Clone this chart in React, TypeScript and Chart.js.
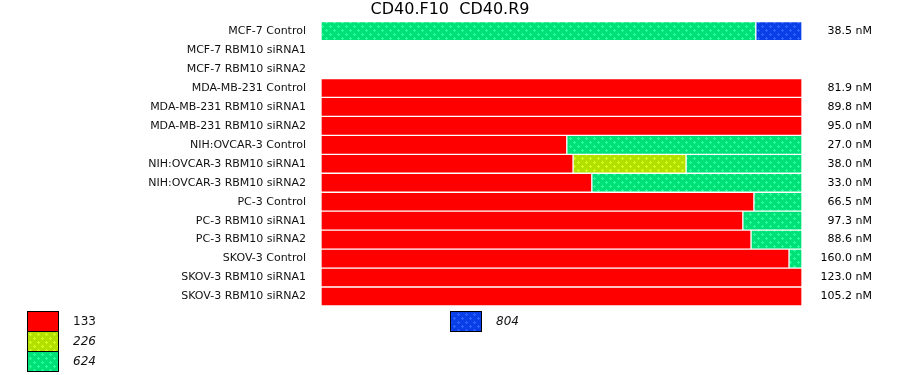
import React, { useEffect, useRef } from "react";
import { Chart, registerables } from "chart.js";

Chart.register(...registerables);

const TITLE = "CD40.F10  CD40.R9";

const categories = [
  "MCF-7 Control",
  "MCF-7 RBM10 siRNA1",
  "MCF-7 RBM10 siRNA2",
  "MDA-MB-231 Control",
  "MDA-MB-231 RBM10 siRNA1",
  "MDA-MB-231 RBM10 siRNA2",
  "NIH:OVCAR-3 Control",
  "NIH:OVCAR-3 RBM10 siRNA1",
  "NIH:OVCAR-3 RBM10 siRNA2",
  "PC-3 Control",
  "PC-3 RBM10 siRNA1",
  "PC-3 RBM10 siRNA2",
  "SKOV-3 Control",
  "SKOV-3 RBM10 siRNA1",
  "SKOV-3 RBM10 siRNA2",
];

const rightLabels = [
  "38.5 nM", "", "", "81.9 nM", "89.8 nM", "95.0 nM", "27.0 nM", "38.0 nM",
  "33.0 nM", "66.5 nM", "97.3 nM", "88.6 nM", "160.0 nM", "123.0 nM", "105.2 nM",
];

const seriesNames = ["133", "226", "624", "804"];

const s133 = [null, null, null, 100, 100, 100, 51.1, 52.4, 56.3, 90.0, 87.7, 89.4, 97.3, 100, 100];
const s226 = [null, null, null, null, null, null, null, 23.5, null, null, null, null, null, null, null];
const s624 = [90.4, null, null, null, null, null, 48.9, 24.1, 43.7, 10.0, 12.3, 10.6, 2.7, null, null];
const s804 = [9.6, null, null, null, null, null, null, null, null, null, null, null, null, null, null];

const FONT = "DejaVu Sans";

function makePattern(base: string, dot: string | null): CanvasPattern | string {
  if (!dot) return base;
  const c = document.createElement("canvas");
  c.width = 8;
  c.height = 8;
  const g = c.getContext("2d")!;
  g.fillStyle = base;
  g.fillRect(0, 0, 8, 8);
  g.fillStyle = dot;
  const plus = (x: number, y: number) => {
    g.fillRect(x - 1, y, 3, 1);
    g.fillRect(x, y - 1, 1, 3);
  };
  plus(2, 2);
  plus(6, 6);
  const p = g.createPattern(c, "repeat");
  return p || base;
}

export default function App() {
  const ref = useRef<HTMLCanvasElement | null>(null);

  useEffect(() => {
    if (!ref.current) return;
    const fills = [
      makePattern("#ff0000", null),
      makePattern("#b4e000", "#d2ff1e"),
      makePattern("#00e078", "#28ff96"),
      makePattern("#0a3ee6", "#2a64ff"),
    ];
    const seriesData = [s133, s226, s624, s804];

    const overlay = {
      id: "overlay",
      afterDraw(chart: any) {
        const ctx = chart.ctx as CanvasRenderingContext2D;
        const area = chart.chartArea;
        const y = chart.scales.y;
        ctx.save();
        // title
        ctx.fillStyle = "#000";
        ctx.font = `16px "${FONT}"`;
        ctx.textAlign = "center";
        ctx.textBaseline = "middle";
        ctx.fillText(TITLE, chart.width / 2, 10);
        // right value labels
        ctx.font = `11px "${FONT}"`;
        ctx.textAlign = "right";
        rightLabels.forEach((t, i) => {
          if (!t) return;
          ctx.fillText(t, area.right + 70, y.getPixelForTick(i));
        });
        // legend
        const colX = [27, 450];
        const rowsPerCol = 3;
        const boxW = 31;
        const boxH = 20;
        const top = 311;
        ctx.textAlign = "left";
        seriesNames.forEach((name, i) => {
          const col = Math.floor(i / rowsPerCol);
          const row = i % rowsPerCol;
          const bx = colX[col];
          const by = top + row * boxH;
          ctx.fillStyle = fills[i] as any;
          ctx.fillRect(bx, by, boxW, boxH);
          ctx.strokeStyle = "#000";
          ctx.lineWidth = 1;
          ctx.strokeRect(bx + 0.5, by + 0.5, boxW, boxH);
          ctx.fillStyle = "#111";
          ctx.font = i === 0 ? `12px "${FONT}"` : `italic 12px "${FONT}"`;
          ctx.fillText(name, bx + 46, by + boxH / 2 + 1);
        });
        ctx.restore();
      },
    };

    const chart = new Chart(ref.current, {
      type: "bar",
      data: {
        labels: categories,
        datasets: seriesNames.map((name, i) => ({
          label: name,
          data: seriesData[i] as any,
          backgroundColor: fills[i] as any,
          borderColor: "#ffffff",
          borderWidth: 1,
          borderSkipped: false,
          barPercentage: 1,
          categoryPercentage: 1,
        })),
      },
      options: {
        indexAxis: "y",
        animation: false,
        responsive: false,
        devicePixelRatio: 1,
        layout: { padding: { left: 0, right: 98, top: 20, bottom: 69 } },
        plugins: {
          legend: { display: false },
          title: { display: false },
          tooltip: { enabled: false },
        },
        scales: {
          x: {
            stacked: true,
            min: 0,
            max: 100,
            display: false,
          },
          y: {
            stacked: true,
            grid: { display: false, drawTicks: false },
            border: { display: false },
            ticks: {
              color: "#111",
              font: { family: FONT, size: 11 },
              padding: 15,
            },
            afterFit: (scale: any) => {
              scale.width = 321;
            },
          },
        },
      },
      plugins: [overlay],
    });
    return () => chart.destroy();
  }, []);

  return (
    <div style={{ position: "absolute", left: 0, top: 0, width: 900, height: 375, background: "#fff" }}>
      <canvas ref={ref} width={900} height={375} />
    </div>
  );
}
